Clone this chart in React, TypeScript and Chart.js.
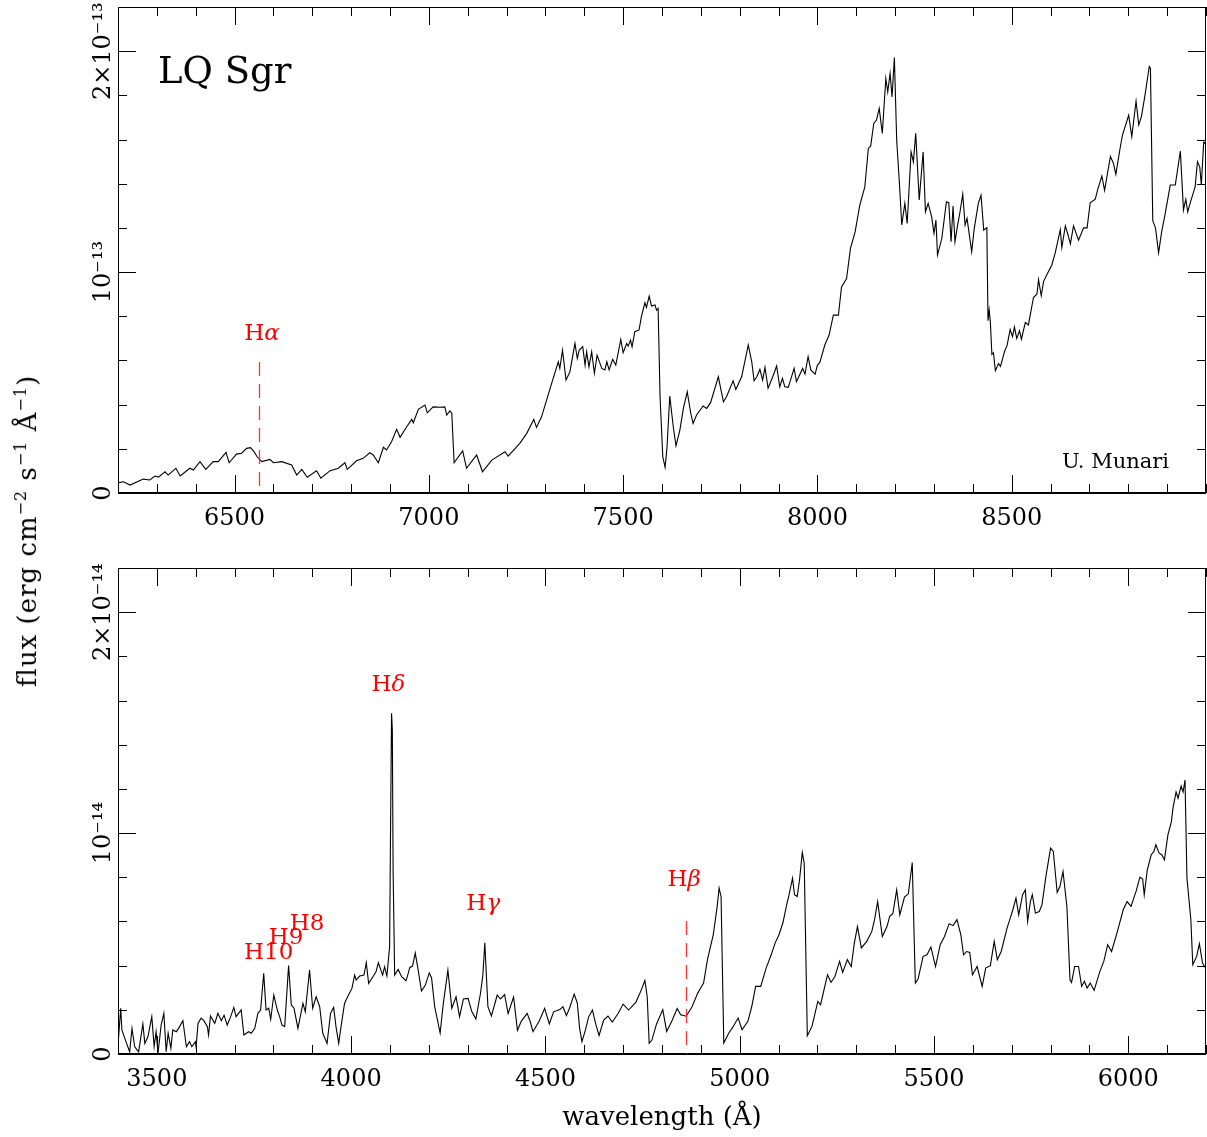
import React, { useEffect, useRef } from "react";
import { Chart, registerables } from "chart.js";

Chart.register(...registerables);

const FONT = '"DejaVu Serif", "Liberation Serif", serif';

// ---------------- Top panel: 6200-9000 Å, flux in units of 1e-13 erg cm^-2 s^-1 Å^-1
const topWavelength = [
  6200, 6203, 6214, 6231, 6265, 6282, 6295, 6304, 6321, 6329, 6349, 6360, 6385, 6394, 6411, 6426, 6445, 6458, 6478, 6486,
  6505, 6518, 6531, 6541, 6550, 6558, 6570, 6591, 6600, 6621, 6647, 6660, 6673, 6687, 6711, 6722, 6746, 6767, 6784, 6790,
  6814, 6831, 6848, 6857, 6870, 6883, 6891, 6904, 6917, 6926, 6943, 6956, 6960, 6973, 6990, 6996, 7011, 7029, 7041, 7046,
  7054, 7059, 7065, 7087, 7097, 7123, 7138, 7162, 7196, 7204, 7234, 7252, 7270, 7277, 7290, 7316, 7333, 7337, 7344, 7353,
  7363, 7376, 7382, 7387, 7396, 7402, 7406, 7412, 7419, 7426, 7433, 7445, 7453, 7458, 7464, 7473, 7481, 7494, 7500, 7509,
  7513, 7519, 7523, 7530, 7541, 7547, 7556, 7560, 7567, 7573, 7582, 7586, 7590, 7595, 7602, 7608, 7613, 7620, 7629, 7636,
  7646, 7655, 7665, 7674, 7680, 7689, 7706, 7715, 7725, 7745, 7758, 7766, 7783, 7790, 7805, 7822, 7831, 7837, 7844, 7852,
  7859, 7865, 7873, 7885, 7895, 7903, 7910, 7916, 7925, 7940, 7946, 7962, 7968, 7976, 7983, 7994, 8000, 8006, 8019, 8030,
  8041, 8054, 8062, 8075, 8085, 8097, 8109, 8122, 8131, 8137, 8145, 8152, 8159, 8167, 8176, 8181, 8187, 8192, 8198, 8204,
  8211, 8217, 8225, 8231, 8241, 8247, 8253, 8262, 8272, 8278, 8285, 8294, 8300, 8305, 8309, 8320, 8332, 8338, 8344, 8349,
  8354, 8360, 8367, 8374, 8380, 8385, 8397, 8403, 8414, 8421, 8428, 8436, 8439, 8442, 8445, 8449, 8453, 8458, 8466, 8471,
  8482, 8488, 8496, 8502, 8507, 8513, 8520, 8525, 8535, 8543, 8556, 8565, 8569, 8576, 8582, 8591, 8603, 8612, 8625, 8629,
  8638, 8645, 8651, 8659, 8672, 8685, 8694, 8702, 8715, 8722, 8732, 8739, 8754, 8762, 8768, 8780, 8785, 8801, 8809, 8820,
  8827, 8834, 8842, 8854, 8857, 8863, 8870, 8878, 8886, 8895, 8908, 8921, 8934, 8942, 8948, 8953, 8960, 8972, 8978, 8984,
  8988, 8994, 9000,
];
const topFlux = [
  0.05, 0.047, 0.051, 0.036, 0.063, 0.059, 0.077, 0.072, 0.096, 0.081, 0.112, 0.077, 0.112, 0.104, 0.142, 0.107, 0.142, 0.142, 0.184, 0.137,
  0.176, 0.18, 0.202, 0.205, 0.187, 0.164, 0.142, 0.152, 0.137, 0.142, 0.127, 0.081, 0.107, 0.071, 0.101, 0.067, 0.101, 0.112, 0.137, 0.107,
  0.146, 0.157, 0.182, 0.172, 0.137, 0.207, 0.195, 0.232, 0.288, 0.252, 0.3, 0.333, 0.318, 0.379, 0.398, 0.363, 0.39, 0.388, 0.39, 0.353,
  0.372, 0.361, 0.137, 0.191, 0.112, 0.172, 0.096, 0.149, 0.187, 0.167, 0.225, 0.27, 0.333, 0.297, 0.345, 0.496, 0.594, 0.564, 0.647, 0.511,
  0.549, 0.677, 0.609, 0.647, 0.662, 0.579, 0.639, 0.571, 0.639, 0.542, 0.624, 0.564, 0.557, 0.594, 0.557, 0.605, 0.579, 0.695, 0.635, 0.677,
  0.665, 0.692, 0.662, 0.73, 0.738, 0.798, 0.861, 0.84, 0.891, 0.846, 0.851, 0.828, 0.836, 0.436, 0.164, 0.116, 0.21, 0.439, 0.3, 0.213,
  0.285, 0.383, 0.458, 0.361, 0.315, 0.353, 0.394, 0.383, 0.409, 0.526, 0.413, 0.436, 0.508, 0.469, 0.526, 0.67, 0.594, 0.508, 0.526, 0.56,
  0.511, 0.569, 0.474, 0.526, 0.575, 0.481, 0.519, 0.481, 0.478, 0.564, 0.504, 0.564, 0.538, 0.617, 0.557, 0.538, 0.579, 0.59, 0.67, 0.715,
  0.805, 0.805, 0.933, 0.971, 1.107, 1.182, 1.303, 1.386, 1.56, 1.57, 1.673, 1.688, 1.741, 1.628, 1.876, 1.816, 1.899, 1.793, 1.971, 1.597,
  1.401, 1.213, 1.311, 1.22, 1.544, 1.499, 1.628, 1.326, 1.544, 1.273, 1.311, 1.25, 1.175, 1.235, 1.077, 1.152, 1.318, 1.314, 1.137, 1.299,
  1.137, 1.205, 1.273, 1.353, 1.213, 1.243, 1.092, 1.19, 1.311, 1.348, 1.19, 1.201, 0.78, 0.829, 0.774, 0.627, 0.635, 0.554, 0.586, 0.573,
  0.643, 0.667, 0.74, 0.708, 0.751, 0.7, 0.735, 0.696, 0.772, 0.761, 0.885, 0.901, 0.966, 0.893, 0.958, 0.99, 1.031, 1.087, 1.192, 1.111,
  1.209, 1.168, 1.128, 1.209, 1.144, 1.2, 1.2, 1.314, 1.33, 1.378, 1.435, 1.37, 1.524, 1.491, 1.443, 1.572, 1.62, 1.71, 1.613, 1.774,
  1.666, 1.705, 1.79, 1.931, 1.923, 1.233, 1.2, 1.087, 1.184, 1.265, 1.394, 1.394, 1.548, 1.281, 1.33, 1.273, 1.317, 1.386, 1.5, 1.475,
  1.394, 1.588, 1.581,
];

// ---------------- Bottom panel: 3400-6200 Å, flux in units of 1e-14 erg cm^-2 s^-1 Å^-1
const bottomWavelength = [
  3400, 3407, 3410, 3419, 3430, 3436, 3443, 3453, 3464, 3469, 3477, 3487, 3493, 3498, 3503, 3511, 3518, 3524, 3529, 3536,
  3541, 3550, 3556, 3567, 3576, 3584, 3590, 3599, 3601, 3606, 3614, 3621, 3630, 3633, 3638, 3649, 3657, 3666, 3673, 3681,
  3690, 3698, 3704, 3717, 3724, 3736, 3743, 3752, 3760, 3767, 3775, 3781, 3788, 3793, 3801, 3810, 3816, 3822, 3829, 3839,
  3846, 3853, 3863, 3876, 3882, 3893, 3901, 3910, 3919, 3927, 3938, 3947, 3955, 3961, 3968, 3974, 3983, 3991, 4002, 4009,
  4013, 4022, 4033, 4039, 4045, 4056, 4064, 4070, 4081, 4086, 4092, 4099, 4101, 4104, 4106, 4108, 4112, 4121, 4130, 4141,
  4144, 4151, 4158, 4165, 4172, 4181, 4191, 4201, 4207, 4215, 4229, 4237, 4249, 4259, 4270, 4279, 4289, 4301, 4310, 4321,
  4333, 4339, 4344, 4348, 4352, 4361, 4376, 4384, 4395, 4404, 4418, 4428, 4438, 4453, 4461, 4468, 4484, 4498, 4510, 4521,
  4537, 4545, 4554, 4562, 4574, 4582, 4588, 4594, 4603, 4611, 4621, 4629, 4638, 4650, 4661, 4672, 4687, 4700, 4714, 4733,
  4746, 4756, 4762, 4767, 4774, 4786, 4802, 4812, 4826, 4839, 4848, 4862, 4877, 4892, 4907, 4917, 4932, 4942, 4947, 4952,
  4959, 4972, 4981, 4996, 5006, 5021, 5031, 5041, 5054, 5068, 5081, 5091, 5101, 5111, 5121, 5126, 5136, 5141, 5148, 5154,
  5161, 5166, 5174, 5186, 5201, 5208, 5226, 5235, 5245, 5257, 5265, 5277, 5287, 5295, 5303, 5313, 5327, 5340, 5347, 5355,
  5367, 5379, 5386, 5394, 5404, 5412, 5424, 5434, 5444, 5452, 5459, 5472, 5482, 5492, 5504, 5516, 5527, 5539, 5549, 5559,
  5569, 5576, 5584, 5592, 5599, 5611, 5624, 5633, 5645, 5655, 5663, 5673, 5688, 5695, 5703, 5711, 5718, 5728, 5735, 5741,
  5748, 5753, 5761, 5771, 5778, 5788, 5800, 5807, 5817, 5824, 5832, 5842, 5850, 5854, 5862, 5872, 5880, 5887, 5894, 5902,
  5912, 5927, 5937, 5947, 5957, 5972, 5987, 5997, 6007, 6020, 6030, 6037, 6041, 6049, 6059, 6066, 6071, 6079, 6086, 6093,
  6102, 6111, 6115, 6123, 6128, 6136, 6141, 6146, 6151, 6161, 6166, 6176, 6183, 6191, 6199,
];
const bottomFlux = [
  0.04, 0.207, 0.109, 0.063, 0.01, 0.116, 0.033, 0.01, 0.136, 0.048, 0.078, 0.169, 0.033, 0.101, 0.003, 0.131, 0.184, 0.01, 0.094, 0.026,
  0.109, 0.101, 0.116, 0.151, 0.033, 0.056, 0.033, 0.056, 0.033, 0.139, 0.162, 0.151, 0.124, 0.086, 0.172, 0.139, 0.184, 0.151, 0.176, 0.131,
  0.169, 0.211, 0.169, 0.199, 0.086, 0.101, 0.094, 0.116, 0.184, 0.199, 0.365, 0.199, 0.207, 0.157, 0.267, 0.199, 0.169, 0.131, 0.124, 0.4,
  0.222, 0.207, 0.116, 0.229, 0.191, 0.38, 0.207, 0.259, 0.214, 0.094, 0.048, 0.184, 0.211, 0.124, 0.048, 0.124, 0.229, 0.259, 0.297, 0.357,
  0.335, 0.353, 0.357, 0.413, 0.32, 0.35, 0.372, 0.413, 0.357, 0.395, 0.353, 0.486, 0.923, 1.542, 1.466, 0.833, 0.357, 0.383, 0.35, 0.332,
  0.347, 0.392, 0.398, 0.457, 0.385, 0.285, 0.312, 0.367, 0.344, 0.214, 0.095, 0.226, 0.38, 0.207, 0.259, 0.169, 0.249, 0.252, 0.195, 0.158,
  0.276, 0.357, 0.504, 0.357, 0.214, 0.172, 0.267, 0.249, 0.269, 0.183, 0.258, 0.107, 0.149, 0.184, 0.146, 0.101, 0.149, 0.207, 0.136, 0.191,
  0.201, 0.214, 0.174, 0.207, 0.271, 0.231, 0.116, 0.056, 0.109, 0.167, 0.199, 0.139, 0.084, 0.154, 0.172, 0.145, 0.183, 0.226, 0.199, 0.235,
  0.287, 0.333, 0.258, 0.048, 0.063, 0.136, 0.201, 0.102, 0.152, 0.206, 0.178, 0.171, 0.213, 0.276, 0.321, 0.427, 0.54, 0.668, 0.751, 0.713,
  0.05, 0.095, 0.118, 0.163, 0.11, 0.148, 0.215, 0.306, 0.306, 0.389, 0.449, 0.502, 0.54, 0.593, 0.676, 0.713, 0.796, 0.721, 0.713, 0.789,
  0.912, 0.864, 0.083, 0.125, 0.238, 0.223, 0.359, 0.324, 0.351, 0.419, 0.369, 0.427, 0.396, 0.502, 0.577, 0.48, 0.51, 0.555, 0.608, 0.69,
  0.532, 0.577, 0.623, 0.635, 0.743, 0.63, 0.71, 0.725, 0.867, 0.321, 0.339, 0.442, 0.449, 0.484, 0.396, 0.495, 0.532, 0.59, 0.581, 0.608,
  0.54, 0.449, 0.464, 0.46, 0.359, 0.396, 0.306, 0.389, 0.4, 0.51, 0.427, 0.464, 0.57, 0.608, 0.653, 0.706, 0.63, 0.721, 0.743, 0.6,
  0.69, 0.721, 0.638, 0.645, 0.676, 0.804, 0.932, 0.917, 0.731, 0.758, 0.826, 0.668, 0.336, 0.324, 0.396, 0.396, 0.306, 0.329, 0.299, 0.321,
  0.288, 0.374, 0.419, 0.495, 0.464, 0.555, 0.653, 0.69, 0.668, 0.736, 0.801, 0.792, 0.721, 0.834, 0.902, 0.917, 0.947, 0.91, 0.902, 0.879,
  0.992, 1.052, 1.113, 1.186, 1.158, 1.213, 1.186, 1.24, 0.796, 0.608, 0.404, 0.442, 0.499, 0.412, 0.389,
];

// ---------------- Axes
const topXRange = [6200, 9000];
const bottomXRange = [3400, 6200];
const topXTicks = [6500, 7000, 7500, 8000, 8500];
const bottomXTicks = [3500, 4000, 4500, 5000, 5500, 6000];
const yRange = [0, 2.2];
const yTicks = [0, 1, 2];
const xMinorStep = 100;
const yMinorStep = 0.2;
const topExponent = -13;
const bottomExponent = -14;

// ---------------- Line identifications
const topLineSuffix = ["α"];
const topLineWave = [6563];
const bottomLineSuffix = ["δ", "γ", "β", "10", "9", "8"];
const bottomLineWave = [4101, 4340, 4861, 3798, 3835, 3889];

// label placement (style, in flux units / px)
const topLinePlacement = [{ base: 0.692, dx: 3, dashTop: 0.593 }];
const bottomLinePlacement = [
  { base: 1.643, dx: -2, dashTop: 0 },
  { base: 0.652, dx: 0, dashTop: 0 },
  { base: 0.76, dx: -1.5, dashTop: 0.602 },
  { base: 0.43, dx: -4, dashTop: 0 },
  { base: 0.498, dx: -1, dashTop: 0 },
  { base: 0.561, dx: -1, dashTop: 0 },
];

const SUP: Record<string, string> = {
  "-": "⁻", "0": "⁰", "1": "¹", "2": "²", "3": "³", "4": "⁴", "5": "⁵", "6": "⁶", "7": "⁷", "8": "⁸", "9": "⁹",
};
const sup = (s: string) => s.split("").map((c) => SUP[c] ?? c).join("");
const yLabel = (exp: number) => (v: number) =>
  v === 0 ? "0" : v === 1 ? `10${sup(String(exp))}` : `${v}×10${sup(String(exp))}`;

const TICK_SIZE = 24;
const TITLE_SIZE = 26;

function measure(text: string, font: string) {
  const c = document.createElement("canvas").getContext("2d")!;
  c.font = font;
  return c.measureText(text).width;
}

const framePlugin = {
  id: "frame",
  afterDatasetsDraw(chart: any) {
    const { ctx, chartArea: a, scales } = chart;
    const xs = scales.x;
    const ys = scales.y;
    ctx.save();
    ctx.strokeStyle = "#000";
    ctx.lineWidth = 1;
    const seg = (x1: number, y1: number, x2: number, y2: number) => {
      ctx.beginPath();
      ctx.moveTo(x1, y1);
      ctx.lineTo(x2, y2);
      ctx.stroke();
    };
    const list = (min: number, max: number, step: number) => {
      const out: number[] = [];
      for (let i = Math.ceil(min / step - 1e-9); i * step <= max + 1e-9; i++) out.push(+(i * step).toFixed(6));
      return out;
    };
    const xMaj = xs.ticks.map((t: any) => t.value);
    const yMaj = ys.ticks.map((t: any) => t.value);
    const isMaj = (v: number, m: number[]) => m.some((q) => Math.abs(q - v) < 1e-6);
    for (const v of list(xs.min, xs.max, xMinorStep)) {
      const len = isMaj(v, xMaj) ? 18 : 9;
      const px = Math.round(xs.getPixelForValue(v)) + 0.5;
      seg(px, a.bottom, px, a.bottom - len);
      seg(px, a.top, px, a.top + len);
    }
    for (const v of list(ys.min, ys.max, yMinorStep)) {
      const len = isMaj(v, yMaj) ? 18 : 9;
      const py = Math.round(ys.getPixelForValue(v)) + 0.5;
      seg(a.left, py, a.left + len, py);
      seg(a.right, py, a.right - len, py);
    }
    seg(a.left + 0.5, a.top, a.left + 0.5, a.bottom);
    seg(a.right - 0.5, a.top, a.right - 0.5, a.bottom);
    seg(a.left, a.top + 0.5, a.right, a.top + 0.5);
    ctx.lineWidth = 2;
    seg(a.left, a.bottom, a.right, a.bottom);
    ctx.restore();
  },
};

function linePlugin(suffixes: string[], waves: number[], place: any[], texts: any[]) {
  return {
    id: "lines",
    afterDatasetsDraw(chart: any) {
      const { ctx, chartArea: a, scales } = chart;
      const xs = scales.x;
      const ys = scales.y;
      ctx.save();
      suffixes.forEach((suf, i) => {
        const p = place[i];
        const lx = xs.getPixelForValue(waves[i]);
        if (p.dashTop > 0) {
          ctx.strokeStyle = "rgba(255,30,30,0.9)";
          ctx.lineWidth = 1.3;
          ctx.setLineDash([14, 8]);
          ctx.beginPath();
          ctx.moveTo(Math.round(lx) + 0.5, ys.getPixelForValue(p.dashTop));
          ctx.lineTo(Math.round(lx) + 0.5, a.bottom);
          ctx.stroke();
          ctx.setLineDash([]);
        }
        const greek = /[α-ω]/.test(suf);
        const fH = `23px ${FONT}`;
        const fS = greek ? `italic 23px ${FONT}` : fH;
        ctx.font = fH;
        const wH = ctx.measureText("H").width;
        ctx.font = fS;
        const wS = ctx.measureText(suf).width;
        const left = lx + p.dx - (wH + wS) / 2;
        const base = ys.getPixelForValue(p.base);
        ctx.fillStyle = "#ff0000";
        ctx.textAlign = "left";
        ctx.textBaseline = "alphabetic";
        ctx.font = fH;
        ctx.fillText("H", left, base);
        ctx.font = fS;
        ctx.fillText(suf, left + wH, base);
      });
      texts.forEach((t) => {
        ctx.font = t.font;
        ctx.fillStyle = "#000";
        ctx.textBaseline = "alphabetic";
        ctx.textAlign = t.align;
        const x = t.align === "left" ? a.left + t.dx : a.right - t.dx;
        const y = t.fromTop ? a.top + t.dy : a.bottom - t.dy;
        ctx.fillText(t.text, x, y);
      });
      ctx.restore();
    },
  };
}

function buildConfig(opts: {
  wave: number[];
  flux: number[];
  xRange: number[];
  xTicks: number[];
  exp: number;
  padTop: number;
  xAxisHeight: number;
  title: string | null;
  plugin: any;
}): any {
  const fmt = yLabel(opts.exp);
  const tickFont = `${TICK_SIZE}px ${FONT}`;
  const widest = Math.max(...yTicks.map((v) => measure(fmt(v), tickFont)));
  const yPad = (118 - 103.5) - widest / 2;
  return {
    type: "line",
    data: {
      datasets: [
        {
          data: opts.wave.map((w, i) => ({ x: w, y: opts.flux[i] })),
          borderColor: "#000",
          borderWidth: 1.1,
          pointRadius: 0,
          fill: false,
          tension: 0,
        },
      ],
    },
    options: {
      responsive: false,
      animation: false,
      devicePixelRatio: 1,
      layout: { padding: { top: opts.padTop, left: 0, right: 1, bottom: 0 } },
      plugins: { legend: { display: false }, tooltip: { enabled: false } },
      scales: {
        x: {
          type: "linear",
          min: opts.xRange[0],
          max: opts.xRange[1],
          grid: { display: false, drawTicks: false },
          border: { display: false },
          afterBuildTicks: (s: any) => {
            s.ticks = opts.xTicks.map((v) => ({ value: v }));
          },
          ticks: {
            autoSkip: false,
            maxRotation: 0,
            minRotation: 0,
            padding: 11,
            color: "#000",
            font: { family: FONT, size: TICK_SIZE },
            callback: (v: number) => String(v),
          },
          title: opts.title
            ? {
                display: true,
                text: opts.title,
                color: "#000",
                font: { family: FONT, size: TITLE_SIZE },
                padding: { top: 0, bottom: 3 },
              }
            : { display: false },
          afterFit: (s: any) => {
            s.height = opts.xAxisHeight;
          },
        },
        y: {
          type: "linear",
          min: yRange[0],
          max: yRange[1],
          grid: { display: false, drawTicks: false },
          border: { display: false },
          afterBuildTicks: (s: any) => {
            s.ticks = yTicks.map((v) => ({ value: v }));
          },
          ticks: {
            autoSkip: false,
            minRotation: 90,
            maxRotation: 90,
            crossAlign: "center",
            padding: yPad,
            color: "#000",
            font: { family: FONT, size: TICK_SIZE },
            callback: (v: number) => fmt(v),
          },
          afterFit: (s: any) => {
            s.width = 118;
          },
        },
      },
    },
    plugins: [framePlugin, opts.plugin],
  };
}

export default function App() {
  const topRef = useRef<HTMLCanvasElement>(null);
  const botRef = useRef<HTMLCanvasElement>(null);

  useEffect(() => {
    const top = new Chart(
      topRef.current!,
      buildConfig({
        wave: topWavelength,
        flux: topFlux,
        xRange: topXRange,
        xTicks: topXTicks,
        exp: topExponent,
        padTop: 7,
        xAxisHeight: 47,
        title: null,
        plugin: linePlugin(topLineSuffix, topLineWave, topLinePlacement, [
          { text: "LQ Sgr", font: `37px ${FONT}`, align: "left", dx: 40, dy: 76, fromTop: true },
          { text: "U. Munari", font: `21px ${FONT}`, align: "right", dx: 37, dy: 25, fromTop: false },
        ]),
      })
    );
    const bottom = new Chart(
      botRef.current!,
      buildConfig({
        wave: bottomWavelength,
        flux: bottomFlux,
        xRange: bottomXRange,
        xTicks: bottomXTicks,
        exp: bottomExponent,
        padTop: 28,
        xAxisHeight: 83,
        title: "wavelength (Å)",
        plugin: linePlugin(bottomLineSuffix, bottomLineWave, bottomLinePlacement, []),
      })
    );
    return () => {
      top.destroy();
      bottom.destroy();
    };
  }, []);

  const supStyle: React.CSSProperties = { fontSize: 16, position: "relative", top: -10 };
  return (
    <div style={{ position: "absolute", left: 0, top: 0, width: 1207, height: 1137, background: "#fff" }}>
      <canvas
        ref={topRef}
        width={1207}
        height={540}
        style={{ position: "absolute", left: 0, top: 0, width: 1207, height: 540 }}
      />
      <canvas
        ref={botRef}
        width={1207}
        height={597}
        style={{ position: "absolute", left: 0, top: 540, width: 1207, height: 597 }}
      />
      <div
        style={{
          position: "absolute",
          left: 29,
          top: 531,
          transform: "translate(-50%, -50%) rotate(-90deg)",
          fontFamily: FONT,
          fontSize: TITLE_SIZE,
          letterSpacing: "1px",
          lineHeight: "26px",
          whiteSpace: "nowrap",
          color: "#000",
        }}
      >
        flux (erg cm<span style={supStyle}>−2</span> s<span style={supStyle}>−1</span> Å<span style={supStyle}>−1</span>)
      </div>
    </div>
  );
}
